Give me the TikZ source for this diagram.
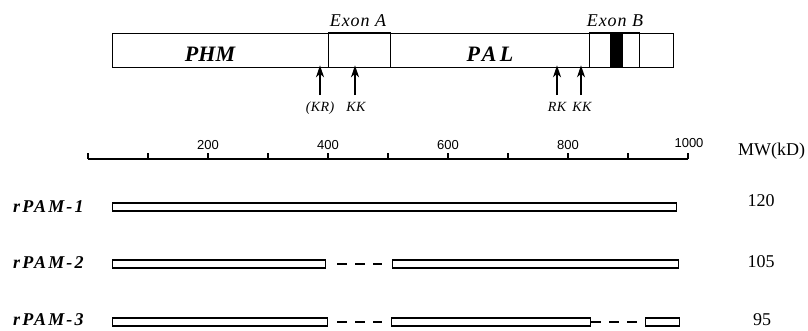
\documentclass[tikz,border=0pt]{standalone}
\usepackage{fontspec}
\setmainfont{Liberation Serif}
\setsansfont{Liberation Sans}
\usetikzlibrary{arrows.meta}
\begin{document}
\begin{tikzpicture}[x=1pt,y=-1pt,
  box/.style={draw,line width=1.3pt,inner sep=0pt,anchor=north west},
  bar/.style={draw,line width=1.2pt,inner sep=0pt,minimum height=8pt,anchor=west},
  gap/.style={line width=1.2pt,dash pattern=on 10pt off 8pt},
  arr/.style={line width=1.2pt,-{Stealth[length=12pt,width=8pt,inset=3.5pt]},shorten >=-3pt},
  site/.style={font=\fontsize{14}{14}\selectfont\itshape\addfontfeature{LetterSpace=3},inner sep=0pt,anchor=base},
  exon/.style={font=\fontsize{18}{18}\selectfont\itshape\addfontfeature{LetterSpace=5},inner sep=0pt},
  dom/.style={font=\fontsize{22}{22}\selectfont\bfseries\itshape,inner sep=0pt},
  axis/.style={line width=1.3pt},
  num/.style={font=\sffamily\fontsize{13}{13}\selectfont,inner sep=0pt},
  rlabel/.style={font=\fontsize{18}{18}\selectfont\bfseries\itshape\addfontfeature{LetterSpace=12},inner sep=0pt,anchor=base west},
  mw/.style={font=\fontsize{18}{18}\selectfont,inner sep=0pt}
]
\useasboundingbox (0,0) rectangle (808,330);

% top protein bar
\node[box,minimum width=561pt,minimum height=34pt] (main) at (112,33) {};
\node[box,minimum width=62pt,minimum height=35pt] (exa) at (328,32) {};
\node[box,minimum width=50pt,minimum height=35pt] (exb) at (589,32) {};
\node[fill=black,inner sep=0pt,minimum width=13pt,minimum height=34pt,anchor=north west] (blk) at (610,33) {};
\node[exon] (exal) at (358,21) {Exon A};
\node[exon] (exbl) at (615,21) {Exon B};
\node[dom] (phm) at (210,54.5) {PHM};
\node[dom,font=\fontsize{22}{22}\selectfont\bfseries\itshape\addfontfeature{LetterSpace=15}] (pal) at (490,54.5) {PAL};

% cleavage sites
\node[site] (kr) at (320,111) {(KR)};
\node[site] (kk1) at (356,111) {KK};
\node[site] (rk) at (557,111) {RK};
\node[site] (kk2) at (582,111) {KK};
\foreach \s/\x in {kr/320,kk1/355,rk/557,kk2/581}{
  \coordinate (a\s) at (\x,95);
  \draw[arr] (a\s) -- (a\s |- main.south);
}

% scale
\coordinate (ax0) at (88,159);
\coordinate (ax1) at (688,159);
\draw[axis] (ax0) -- (ax1);
\foreach \i in {0,...,10}
  \draw[axis] (88+60*\i,159) -- ++(0,-6.5);
\foreach \v/\i in {200/2,400/4,600/6,800/8}
  \node[num] (t\v) at (88+60*\i,145) {\v};
\node[num] (t1000) at (689,143) {1000};
\node[mw,anchor=west] (mwl) at (738,151) {MW(kD)};

% rPAM-1
\node[rlabel] (l1) at (13,212) {rPAM-1};
\node[bar,minimum width=564pt] (b1) at (112,207) {};
\node[mw] (m1) at (761,201) {120};

% rPAM-2
\node[rlabel] (l2) at (13,268) {rPAM-2};
\node[bar,minimum width=213pt] (b2a) at (112,264) {};
\node[bar,minimum width=286pt] (b2b) at (392,264) {};
\draw[gap,shorten <=11pt,shorten >=10pt] (b2a.east) -- (b2b.west);
\node[mw] (m2) at (761,262) {105};

% rPAM-3
\node[rlabel] (l3) at (13,325.5) {rPAM-3};
\node[bar,minimum width=215pt] (b3a) at (112,322) {};
\node[bar,minimum width=199pt] (b3b) at (391,322) {};
\node[bar,minimum width=34pt] (b3c) at (645,322) {};
\draw[gap,shorten <=9pt,shorten >=9pt] (b3a.east) -- (b3b.west);
\draw[gap,shorten >=5pt] (b3b.east) -- (b3c.west);
\node[mw] (m3) at (762,319.5) {95};
\end{tikzpicture}
\end{document}
